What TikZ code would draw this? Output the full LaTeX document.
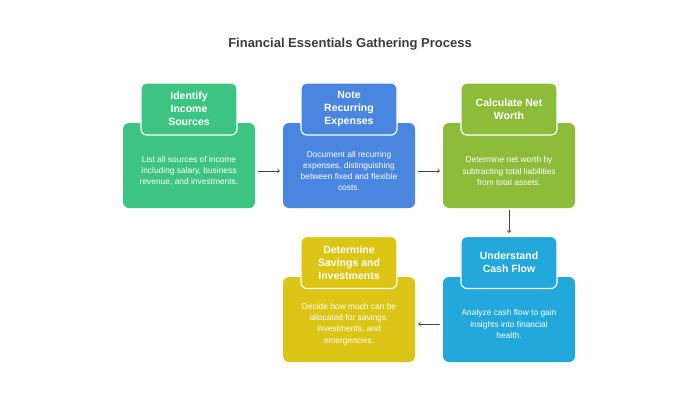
\documentclass[tikz,border=0pt]{standalone}
\usepackage{fontspec}
\setmainfont{Liberation Sans}

\definecolor{incgreen}{HTML}{3EC482}
\definecolor{expblue}{HTML}{4A86E0}
\definecolor{worthgreen}{HTML}{8DBB3A}
\definecolor{flowblue}{HTML}{22A8DA}
\definecolor{saveyellow}{HTML}{DCC515}
\definecolor{titlegray}{HTML}{3C3C3C}
\definecolor{arrowgray}{HTML}{444444}

\tikzset{
  body/.style={rectangle, rounded corners=6pt, minimum width=132pt, minimum height=85pt},
  head/.style={rectangle, rounded corners=6pt, minimum width=96pt, minimum height=52pt,
    draw=white, line width=1.2pt, text=white, align=center,
    font=\bfseries\fontsize{10.5}{13}\selectfont},
  info/.style={text=white, align=center, font=\fontsize{8.4}{11.3}\selectfont},
  flow/.style={->, draw=arrowgray, line width=0.8pt, shorten >=3pt, shorten <=3pt}
}

\begin{document}
\begin{tikzpicture}[x=1pt, y=1pt]

\useasboundingbox[fill=white] (0,0) rectangle (700,400);

% figure title
\node[text=titlegray, font=\bfseries\fontsize{13}{15}\selectfont] at (350, 356) (title) {Financial Essentials Gathering Process};

% identify income
\node[body, fill=incgreen] at (189, 234.5) (incbody) {};
\node[head, fill=incgreen] at (189, 291) (inchead) {Identify\\Income\\Sources};
\node[info] at (189, 229) (inctext) {List all sources of income\\including salary, business\\revenue, and investments.};

% recurring expenses
\node[body, fill=expblue] at (349, 234.5) (expbody) {};
\node[head, fill=expblue] at (349, 291) (exphead) {Note\\Recurring\\Expenses};
\node[info] at (349, 229) (exptext) {Document all recurring\\expenses, distinguishing\\between fixed and flexible\\costs.};

% net worth
\node[body, fill=worthgreen] at (509, 234.5) (worthbody) {};
\node[head, fill=worthgreen] at (509, 291) (worthhead) {Calculate Net\\Worth};
\node[info] at (509, 229) (worthtext) {Determine net worth by\\subtracting total liabilities\\from total assets.};

% cash flow
\node[body, fill=flowblue] at (509, 80.5) (flowbody) {};
\node[head, fill=flowblue] at (509, 137.5) (flowhead) {Understand\\Cash Flow};
\node[info] at (509, 76) (flowtext) {Analyze cash flow to gain\\insights into financial\\health.};

% savings and investments
\node[body, fill=saveyellow] at (349, 80.5) (savebody) {};
\node[head, fill=saveyellow] at (349, 137.5) (savehead) {Determine\\Savings and\\Investments};
\node[info] at (349, 76) (savetext) {Decide how much can be\\allocated for savings,\\investments, and\\emergencies.};

% arrows between the steps
\draw[flow] ([yshift=-5.5pt]incbody.east) -- ([yshift=-5.5pt]expbody.west);
\draw[flow] ([yshift=-5.5pt]expbody.east) -- ([yshift=-5.5pt]worthbody.west);
\draw[flow, shorten <=2pt] (worthbody.south) -- (flowhead.north);
\draw[flow] ([yshift=-4.5pt]flowbody.west) -- ([yshift=-4.5pt]savebody.east);

\end{tikzpicture}
\end{document}
